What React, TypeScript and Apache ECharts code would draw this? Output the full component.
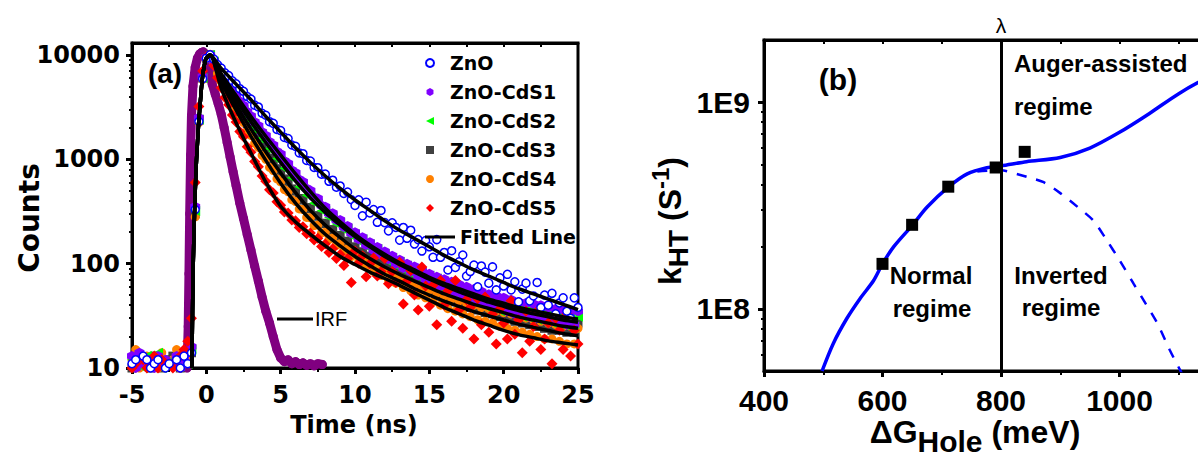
import React, { useEffect, useRef } from "react";
import * as echarts from "echarts";

// ---------------- Panel (a): TRPL decay ----------------
const TIME_NS = [-5,-4.75,-4.5,-4.25,-4,-3.75,-3.5,-3.25,-3,-2.75,-2.5,-2.25,-2,-1.75,-1.5,-1.25,-1,-0.75,-0.5,-0.25,0,0.25,0.5,0.75,1,1.25,1.5,1.75,2,2.25,2.5,2.75,3,3.25,3.5,3.75,4,4.25,4.5,4.75,5,5.25,5.5,5.75,6,6.25,6.5,6.75,7,7.25,7.5,7.75,8,8.25,8.5,8.75,9,9.25,9.5,9.75,10,10.25,10.5,10.75,11,11.25,11.5,11.75,12,12.25,12.5,12.75,13,13.25,13.5,13.75,14,14.25,14.5,14.75,15,15.25,15.5,15.75,16,16.25,16.5,16.75,17,17.25,17.5,17.75,18,18.25,18.5,18.75,19,19.25,19.5,19.75,20,20.25,20.5,20.75,21,21.25,21.5,21.75,22,22.25,22.5,22.75,23,23.25,23.5,23.75,24,24.25,24.5,24.75,25];

const ZNO = [11,12,9,13,12,10,11,12,8,10,11,9,12,10,13,11,
  14,330,2300,5900,9300,10000,
  9120,8080,7460,6720,6330,5650,5290,4740,4480,3990,3780,3300,3170,2760,2640,2290,2210,1930,1880,1620,1580,1370,1330,1150,1130,975,960,835,830,720,720,615,630,540,555,470,485,410,
  361,408,287,388,306,330,249,323,247,206,246,222,168,222,175,209,154,170,132,166,145,115,170,115,128,87,133,92,104,121,76,84,97,60,95,83,65,93,56,73,61,79,56,67,43,57,65,44,49,66,38,50,40,52,33,42,47,35,30,47,38];

const ZNO_CDS1 = [13,10,14,11,9,12,10,13,11,12,9,11,13,10,12,14,
  16,350,2500,6200,9500,10000,
  8760,7520,6650,5800,5240,4560,4110,3590,3270,2850,2600,2270,2090,1820,1690,1470,1370,1190,1120,965,910,785,742,640,610,525,503,432,420,360,350,302,304,262,262,224,229,195,200,171,179,151,160,134,144,121,131,110,119,100,109,91,100,84,94,77,86,71,80,65,75,61,71,56,67,53,63,50,60,47,57,44,54,41,51,39,49,37,47,35,45,33,43,32,42,31,41,30,40,29,38,28,37,27,36,26,35,26,35];

const ZNO_CDS2 = [12,9,11,10,13,8,12,14,10,9,11,12,10,13,9,11,
  15,320,2400,6000,9400,10000,
  8620,7300,6350,5480,4890,4200,3760,3250,2960,2550,2320,2010,1850,1590,1470,1270,1190,1015,955,820,780,665,635,545,530,452,440,380,376,322,320,276,280,240,244,210,216,184,191,163,171,145,153,129,138,115,124,104,114,95,104,87,96,80,89,74,83,68,77,63,72,59,67,55,63,51,59,48,56,45,53,42,50,39,48,37,46,35,44,34,42,32,40,31,39,30,38,29,36,28,35,27,34,26,33,25,32,25,31];

const ZNO_CDS3 = [10,12,11,9,12,10,13,11,10,12,9,13,11,10,12,11,
  14,300,2350,6000,9300,10000,
  8440,6960,5930,5050,4470,3780,3350,2860,2580,2190,1980,1690,1540,1310,1195,1025,952,812,760,648,612,520,494,421,406,345,335,288,285,244,242,209,212,183,186,159,164,140,145,124,130,111,118,100,107,91,99,84,91,77,85,71,79,66,73,61,68,57,64,53,60,49,56,46,53,43,50,41,47,38,45,36,43,34,41,33,39,31,38,30,36,28,35,27,33,26,32,25,31,24,30,23,29,23,28,22,27,22,27];

const ZNO_CDS4 = [12,15,10,11,13,9,12,10,14,11,9,12,15,10,11,13,
  15,280,2250,5800,9200,10000,
  8230,6650,5540,4640,4080,3390,2990,2510,2250,1880,1690,1420,1300,1090,1000,838,780,650,607,512,488,410,394,334,330,277,275,232,234,197,200,170,176,150,155,132,139,117,124,104,112,94,102,84,93,77,85,70,79,65,74,59,68,55,63,50,59,47,56,43,52,40,49,37,46,35,44,33,42,31,40,29,38,28,37,27,35,25,34,24,33,23,31,22,30,21,29,20,28,19,27,19,26,18,25,17,25,17,24];

const ZNO_CDS5 = [10,11,9,12,10,11,13,10,12,9,11,10,12,13,15,18,
  30,600,3200,7000,9600,10000,
  7900,6050,4850,3900,3330,2650,2280,1850,1640,1320,1170,950,850,690,615,510,475,392,362,312,305,262,258,222,226,193,197,168,175,146,154,128,139,112,122,96,112,66,
  132,101,119,75,100,113,76,84,112,64,84,66,103,41,68,86,50,36,93,61,39,62,26,69,40,55,28,69,36,24,45,38,19,46,26,48,22,33,17,37,27,19,44,21,29,14,35,18,25,35,15,19,27,11,30,23,15,33,13,23,17];

const IRF_TIME = [-1.3,-1.22,-1.17,-1.12,-1.06,-1.0,-0.9,-0.75,-0.6,-0.45,-0.3,-0.2,-0.1,0,0.2,0.4,0.6,0.8,1.0,1.2,1.4,1.6,1.8,2.0,2.25,2.5,2.75,3.0,3.25,3.5,3.75,4.0,4.25,4.5,4.75,5.0,5.25,5.5,5.75,6.0,6.25,6.5,6.75,7.0,7.25,7.5,7.8];
const IRF_COUNTS = [10,25,80,300,1100,2600,5000,7600,9300,10200,10600,10700,10300,9000,6800,5200,4200,3400,2700,2000,1450,1050,760,560,380,270,190,135,95,68,48,35,27,20,15,12.5,11.5,12,11,11.5,10.8,11.2,10.6,11,10.5,11,10.8];

const FIT_TIME = [-0.97,-0.88,-0.66,-0.32,-0.05,0.25,1,2,3,4,5,6,7,8,9,10,11,12,13,14,15,16,17,18,19,20,21,22,23,24,25];
const FIT_ZNO = [10,100,1000,5000,9000,10000,7413,5248,3715,2570,1820,1288,933,692,525,407,324,257,209,174,145,120,102,87,76,66,57.5,51.3,45.7,40.7,36.3];
const FIT_CDS1 = [10,100,1000,5000,9000,10000,6607,4074,2570,1660,1096,724,490,339,251,191,151,123,102,87,74,64.6,57.5,51.3,45.7,41.7,38,35.5,33.1,30.9,29.5];
const FIT_CDS2 = [10,100,1000,5000,9000,10000,6310,3715,2291,1445,933,617,427,309,234,182,145,117,98,83,71,61.7,53.7,47.9,42.7,38.9,35.5,33.1,30.9,28.8,27.5];
const FIT_CDS3 = [10,100,1000,5000,9000,10000,5888,3311,1950,1175,741,479,324,234,178,138,112,93,79,68,59,51.3,45.7,40.7,37.2,33.9,30.9,28.8,26.9,25.1,24];
const FIT_CDS4 = [10,100,1000,5000,9000,10000,5495,2951,1660,977,589,380,263,191,148,117,95.5,79,68,57.5,50,43.7,38.9,34.7,31.6,28.8,26.3,24.5,22.9,21.4,20.4];
const FIT_CDS5 = [10,100,1000,5000,9000,10000,4786,2239,1148,603,355,251,191,148,117,98,83,72,62,52.5,44.7,38,33.1,28.8,25.7,22.9,20.9,19.5,18.2,17.4,16.6];

const COUNT_TICKS = [10, 100, 1000, 10000];
const COUNT_MIN = 10;
const COUNT_MAX = 13000;
const TIME_MIN = -5;
const TIME_MAX = 25;

// ---------------- Panel (b): Marcus plot ----------------
const DG_POINTS = [600, 650, 711, 791, 840];
const K_POINTS = [1.65e8, 2.55e8, 3.9e8, 4.83e8, 5.75e8];
const DG_AUGER = [498,517,540,562,585,600,619,651,675,712,743,776,800,843,900,950,1000,1050,1100,1150,1200];
const K_AUGER = [5.0e7,6.8e7,9.0e7,1.12e8,1.37e8,1.65e8,2.0e8,2.55e8,3.1e8,3.9e8,4.5e8,4.82e8,4.92e8,5.15e8,5.4e8,6.0e8,7.15e8,8.8e8,1.1e9,1.32e9,1.52e9];
const DG_MARCUS = [760,800,826,850,872,900,930,956,977,1000,1024,1045,1064,1085,1100,1108];
const K_MARCUS = [4.62e8,4.68e8,4.5e8,4.3e8,4.1e8,3.63e8,3.1e8,2.67e8,2.18e8,1.72e8,1.32e8,1.05e8,8.5e7,6.3e7,5.2e7,4.7e7];
const LAMBDA = 800;
const K_TICKS = [1e8, 1e9];
const K_MIN = 5e7;
const K_MAX = 2e9;
const DG_MIN = 400;
const DG_MAX = 1200;

const FONT_A = '"DejaVu Sans", sans-serif';
const FONT_B = '"Liberation Sans", Arial, sans-serif';

const lg = (v: number) => Math.log10(v);
const pairs = (xs: number[], ys: number[]) => xs.map((x, i) => [x, lg(ys[i])]);

const minorLogs = (decades: number[]) => {
  const out: number[] = [];
  decades.forEach((d) => {
    for (let k = 2; k <= 9; k++) out.push(lg(k * d));
  });
  return out;
};

const HEX = "path://M5,0L9.33,2.5L9.33,7.5L5,10L0.67,7.5L0.67,2.5Z";
const SQUARE = "path://M0,0H10V10H0Z";
const TRI_LEFT = "path://M0,5L10,0L10,10Z";
const DIAMOND = "path://M5,0L10,5L5,10L0,5Z";

function buildOption() {
  const blackLine = { show: true, onZero: false, lineStyle: { color: "#000", width: 3 } };
  const fitSeries = [FIT_ZNO, FIT_CDS1, FIT_CDS2, FIT_CDS3, FIT_CDS4, FIT_CDS5].map((f) => ({
    name: "Fitted Line",
    type: "line",
    xAxisIndex: 0,
    yAxisIndex: 0,
    data: pairs(FIT_TIME, f),
    symbol: "none",
    showSymbol: false,
    smooth: 0.25,
    lineStyle: { color: "#000", width: 3.5 },
    itemStyle: { color: "#000" },
    z: 4,
  }));

  const scatter = (name: string, data: number[], symbol: string, size: number, itemStyle: any) => ({
    name,
    type: "scatter",
    xAxisIndex: 0,
    yAxisIndex: 0,
    data: pairs(TIME_NS, data),
    symbol,
    symbolSize: size,
    itemStyle: { opacity: 1, ...itemStyle },
    z: 3,
  });

  const text = (x: number, y: number, t: string, size: number, extra: any = {}, rotation = 0) => ({
    type: "text",
    x,
    y,
    rotation,
    silent: true,
    style: {
      text: t,
      fontSize: size,
      fontWeight: "bold",
      fontFamily: FONT_B,
      fill: "#000",
      align: "center",
      verticalAlign: "middle",
      ...extra,
    },
  });

  const legendText = { fontFamily: FONT_A, fontWeight: "bold", fontSize: 19, color: "#000", lineHeight: 20 };

  return {
    animation: false,
    backgroundColor: "#ffffff",
    textStyle: { fontFamily: FONT_B },
    grid: [
      { left: 132, right: 620, top: 43, bottom: 88, show: true, borderColor: "#000", borderWidth: 3, backgroundColor: "transparent", outerBoundsMode: "none" },
      { left: 764, right: -40, top: 40, bottom: 85, show: true, borderColor: "#000", borderWidth: 3, backgroundColor: "transparent", outerBoundsMode: "none" },
    ],
    xAxis: [
      {
        type: "value", gridIndex: 0, position: "bottom", min: TIME_MIN, max: TIME_MAX, interval: 5,
        axisLine: blackLine,
        axisTick: { show: true, inside: false, length: 6, lineStyle: { color: "#000", width: 3 } },
        minorTick: { show: true, splitNumber: 2, length: 4, lineStyle: { color: "#000", width: 2 } },
        axisLabel: { color: "#000", fontFamily: FONT_A, fontWeight: "bold", fontSize: 24, margin: 15, formatter: (v: number) => String(v) },
        splitLine: { show: false }, minorSplitLine: { show: false },
      },
      {
        type: "value", gridIndex: 0, position: "top", min: TIME_MIN, max: TIME_MAX, interval: 2.5,
        axisLine: blackLine,
        axisTick: { show: true, inside: true, length: 4, lineStyle: { color: "#000", width: 2 } },
        axisLabel: { show: false }, splitLine: { show: false },
      },
      {
        type: "value", gridIndex: 1, position: "bottom", min: DG_MIN, max: DG_MAX, interval: 200,
        axisLine: blackLine,
        axisTick: { show: true, inside: false, length: 6, lineStyle: { color: "#000", width: 3 } },
        minorTick: { show: true, splitNumber: 2, length: 4, lineStyle: { color: "#000", width: 2 } },
        axisLabel: { color: "#000", fontFamily: FONT_B, fontWeight: "bold", fontSize: 30, margin: 14, showMaxLabel: false, formatter: (v: number) => String(v) },
        splitLine: { show: false }, minorSplitLine: { show: false },
      },
      {
        type: "value", gridIndex: 1, position: "top", min: DG_MIN, max: DG_MAX, interval: 100,
        axisLine: blackLine,
        axisTick: { show: true, inside: true, length: 4, lineStyle: { color: "#000", width: 2 } },
        axisLabel: { show: false }, splitLine: { show: false },
      },
    ],
    yAxis: [
      {
        type: "value", gridIndex: 0, position: "left", min: lg(COUNT_MIN), max: lg(COUNT_MAX),
        axisLine: blackLine,
        axisTick: { show: true, inside: false, length: 6, customValues: COUNT_TICKS.map(lg), lineStyle: { color: "#000", width: 3 } },
        axisLabel: {
          color: "#000", fontFamily: FONT_A, fontWeight: "bold", fontSize: 24, margin: 12,
          customValues: COUNT_TICKS.map(lg),
          formatter: (v: number) => String(Math.round(Math.pow(10, v))),
        },
        splitLine: { show: false },
      },
      {
        type: "value", gridIndex: 0, position: "left", min: lg(COUNT_MIN), max: lg(COUNT_MAX),
        axisLine: { show: false, onZero: false },
        axisTick: { show: true, inside: false, length: 3, customValues: minorLogs([10, 100, 1000]), lineStyle: { color: "#000", width: 2 } },
        axisLabel: { show: false }, splitLine: { show: false },
      },
      {
        type: "value", gridIndex: 1, position: "left", min: lg(K_MIN), max: lg(K_MAX),
        axisLine: blackLine,
        axisTick: { show: true, inside: false, length: 6, customValues: K_TICKS.map(lg), lineStyle: { color: "#000", width: 3 } },
        axisLabel: {
          color: "#000", fontFamily: FONT_B, fontWeight: "bold", fontSize: 30, margin: 14,
          customValues: K_TICKS.map(lg),
          formatter: (v: number) => "1E" + Math.round(v),
        },
        splitLine: { show: false },
      },
      {
        type: "value", gridIndex: 1, position: "left", min: lg(K_MIN), max: lg(K_MAX),
        axisLine: { show: false, onZero: false },
        axisTick: {
          show: true, inside: false, length: 3,
          customValues: [6e7, 7e7, 8e7, 9e7].map(lg).concat(minorLogs([1e8])),
          lineStyle: { color: "#000", width: 2 },
        },
        axisLabel: { show: false }, splitLine: { show: false },
      },
    ],
    legend: [
      {
        data: ["ZnO", "ZnO-CdS1", "ZnO-CdS2", "ZnO-CdS3", "ZnO-CdS4", "ZnO-CdS5"],
        orient: "vertical", left: 425, top: 53, itemWidth: 30, itemHeight: 8, itemGap: 9, padding: 0,
        selectedMode: false, symbolKeepAspect: true,
        textStyle: legendText,
      },
      {
        data: [{ name: "Fitted Line", icon: "rect" }],
        orient: "vertical", left: 425, top: 227, itemWidth: 30, itemHeight: 3, padding: 0,
        symbolKeepAspect: false, selectedMode: false,
        itemStyle: { color: "#000" },
        textStyle: legendText,
      },
    ],
    series: [
      {
        name: "IRF", type: "line", xAxisIndex: 0, yAxisIndex: 0,
        data: pairs(IRF_TIME, IRF_COUNTS),
        symbol: "circle", symbolSize: 9, showSymbol: true,
        lineStyle: { color: "#800080", width: 9, join: "round", cap: "round" },
        itemStyle: { color: "#800080", opacity: 1 },
        z: 2,
      },
      scatter("ZnO-CdS3", ZNO_CDS3, SQUARE, 9, { color: "#404040" }),
      scatter("ZnO-CdS4", ZNO_CDS4, "circle", 9, { color: "#ff8000" }),
      scatter("ZnO-CdS2", ZNO_CDS2, TRI_LEFT, 10, { color: "#00ff00" }),
      scatter("ZnO-CdS1", ZNO_CDS1, HEX, 10, { color: "#8000ff" }),
      scatter("ZnO-CdS5", ZNO_CDS5, DIAMOND, 11, { color: "#ff0000" }),
      scatter("ZnO", ZNO, "circle", 8, { color: "#ffffff", borderColor: "#0000ff", borderWidth: 1.5 }),
      ...fitSeries,
      {
        name: "Auger-assisted", type: "line", xAxisIndex: 2, yAxisIndex: 2,
        data: pairs(DG_AUGER, K_AUGER),
        symbol: "none", showSymbol: false, smooth: 0.3,
        lineStyle: { color: "#0000ff", width: 3.5 },
        itemStyle: { color: "#0000ff" },
        z: 3,
        markLine: {
          silent: true, animation: false, symbol: ["none", "none"],
          data: [{ xAxis: LAMBDA }],
          lineStyle: { color: "#000", width: 3, type: "solid" },
          label: { show: true, position: "end", formatter: "λ", color: "#000", fontSize: 21, fontFamily: FONT_B, fontWeight: "normal", distance: 4 },
        },
      },
      {
        name: "Marcus", type: "line", xAxisIndex: 2, yAxisIndex: 2,
        data: pairs(DG_MARCUS, K_MARCUS),
        symbol: "none", showSymbol: false, smooth: 0.3,
        lineStyle: { color: "#0000ff", width: 2.5, type: [10, 10] },
        itemStyle: { color: "#0000ff" },
        z: 3,
      },
      {
        name: "kHT", type: "scatter", xAxisIndex: 2, yAxisIndex: 2,
        data: pairs(DG_POINTS, K_POINTS),
        symbol: "rect", symbolSize: 12,
        itemStyle: { color: "#000", opacity: 1 },
        z: 5,
      },
    ],
    graphic: [
      text(165, 73, "(a)", 28),
      text(29, 218, "Counts", 28, { fontFamily: FONT_A }, Math.PI / 2),
      text(354, 425, "Time (ns)", 24, { fontFamily: FONT_A }),
      { type: "line", silent: true, shape: { x1: 277, y1: 319, x2: 313, y2: 319 }, style: { stroke: "#000", lineWidth: 3 } },
      text(315, 319, "IRF", 20, { fontWeight: "normal", align: "left" }),
      text(838, 79, "(b)", 30),
      text(1014, 63, "Auger-assisted", 24, { align: "left" }),
      text(1014, 106, "regime", 24, { align: "left" }),
      text(931, 275, "Normal", 24),
      text(932, 308, "regime", 24),
      text(1061, 275, "Inverted", 24),
      text(1061, 307, "regime", 24),
      {
        type: "text", x: 670, y: 221, rotation: Math.PI / 2, silent: true,
        style: {
          text: "{m|k}{s|HT}{m| (S}{p|-1}{m|)}",
          align: "center", verticalAlign: "middle", fill: "#000",
          rich: {
            m: { fontSize: 32, fontWeight: "bold", fontFamily: FONT_B, fill: "#000" },
            s: { fontSize: 28, fontWeight: "bold", fontFamily: FONT_B, fill: "#000", padding: [16, 0, 0, 0] },
            p: { fontSize: 24, fontWeight: "bold", fontFamily: FONT_B, fill: "#000", padding: [0, 0, 20, 0] },
          },
        },
      },
      {
        type: "text", x: 975, y: 432, silent: true,
        style: {
          text: "{m|ΔG}{s|Hole}{m| (meV)}",
          align: "center", verticalAlign: "middle", fill: "#000",
          rich: {
            m: { fontSize: 32, fontWeight: "bold", fontFamily: FONT_B, fill: "#000" },
            s: { fontSize: 30, fontWeight: "bold", fontFamily: FONT_B, fill: "#000", padding: [18, 0, 0, 0] },
          },
        },
      },
    ],
  };
}

export default function App() {
  const ref = useRef<HTMLDivElement>(null);
  useEffect(() => {
    document.body.style.margin = "0";
    if (!ref.current) return;
    const chart = echarts.init(ref.current, null, { renderer: "svg" });
    chart.setOption(buildOption() as any);
    return () => chart.dispose();
  }, []);
  return <div ref={ref} style={{ width: 1198, height: 456, overflow: "hidden" }} />;
}
